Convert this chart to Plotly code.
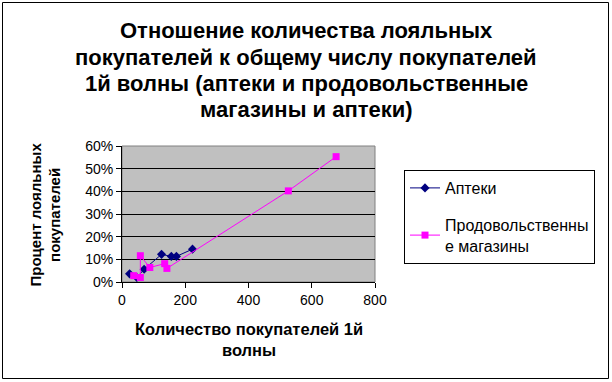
import plotly.graph_objects as go

pharm_x = [24, 47, 70, 125, 156, 172, 223]
pharm_y = [0.036, 0.020, 0.056, 0.122, 0.113, 0.113, 0.145]
food_x = [37, 58, 58, 88, 135, 142, 526, 677]
food_y = [0.028, 0.020, 0.116, 0.064, 0.081, 0.060, 0.402, 0.553]

title_lines = ["Отношение количества лояльных",
               "покупателей к общему числу покупателей",
               "1й волны (аптеки и продовольственные",
               "магазины и аптеки)"]
x_title = "<b>Количество покупателей 1й<br>волны</b>"
y_title = "<b>Процент лояльных<br>покупателей</b>"
names = ["Аптеки", "Продовольственны<br>е магазины"]

FONT = "Arial, Liberation Sans, sans-serif"
L, R, T, B = 122, 375, 146, 282
W, H = 612, 382

def px(xp):
    return (xp - L) / (R - L)

def py(yp):
    return (B - yp) / (B - T)

fig = go.Figure()
fig.add_trace(go.Scatter(x=pharm_x, y=pharm_y, mode="lines+markers", name=names[0],
                         line=dict(color="#000080", width=1),
                         marker=dict(symbol="diamond", size=7, color="#000080"),
                         legendgroup="a"))
fig.add_trace(go.Scatter(x=food_x, y=food_y, mode="lines+markers", name=names[1],
                         line=dict(color="#FF00FF", width=1),
                         marker=dict(symbol="square", size=7, color="#FF00FF"),
                         legendgroup="b"))

annotations = []
for i, line in enumerate(title_lines):
    annotations.append(dict(text="<b>" + line + "</b>", xref="paper", yref="paper",
                            x=px(306), y=py(31 + 26 * i), xanchor="center", yanchor="middle",
                            showarrow=False, font=dict(family=FONT, size=22, color="black")))
annotations.append(dict(text=x_title, xref="paper", yref="paper", x=0.5, y=py(318),
                        xanchor="center", yanchor="top", showarrow=False,
                        font=dict(family=FONT, size=16.5, color="black")))
annotations.append(dict(text=y_title, xref="paper", yref="paper", x=px(24), y=py(215),
                        xanchor="left", yanchor="middle", showarrow=False, textangle=-90,
                        font=dict(family=FONT, size=15, color="black")))

fig.update_layout(
    width=W, height=H,
    margin=dict(l=L, r=W - R, t=T, b=H - B),
    paper_bgcolor="white", plot_bgcolor="#C0C0C0",
    font=dict(family=FONT, size=14, color="black"),
    showlegend=True,
    legend=dict(x=px(404), y=py(170), xanchor="left", yanchor="top",
                bordercolor="black", borderwidth=1, bgcolor="white",
                font=dict(family=FONT, size=16), traceorder="grouped",
                tracegroupgap=13, itemwidth=30),
    xaxis=dict(range=[0, 800], dtick=200, showgrid=False, zeroline=False,
               showline=True, linecolor="black", linewidth=1,
               ticks="outside", ticklen=5, tickcolor="black",
               tickfont=dict(size=14)),
    yaxis=dict(range=[0, 0.6], dtick=0.1, tickformat=".0%", showgrid=True,
               gridcolor="black", gridwidth=1, zeroline=False,
               showline=True, linecolor="black", linewidth=1,
               ticks="outside", ticklen=5, tickcolor="black",
               tickfont=dict(size=14)),
    shapes=[
        dict(type="rect", xref="paper", yref="paper", x0=0, x1=1, y0=0, y1=1,
             line=dict(color="#808080", width=1), layer="below"),
        dict(type="rect", xref="paper", yref="paper", x0=px(2.5), x1=px(608.5),
             y0=py(378.5), y1=py(2.5), line=dict(color="black", width=1)),
    ],
    annotations=annotations,
)

fig.write_html("out.html", config={"displayModeBar": False},
               post_script="document.body.style.margin='0';document.body.style.overflow='hidden';")
